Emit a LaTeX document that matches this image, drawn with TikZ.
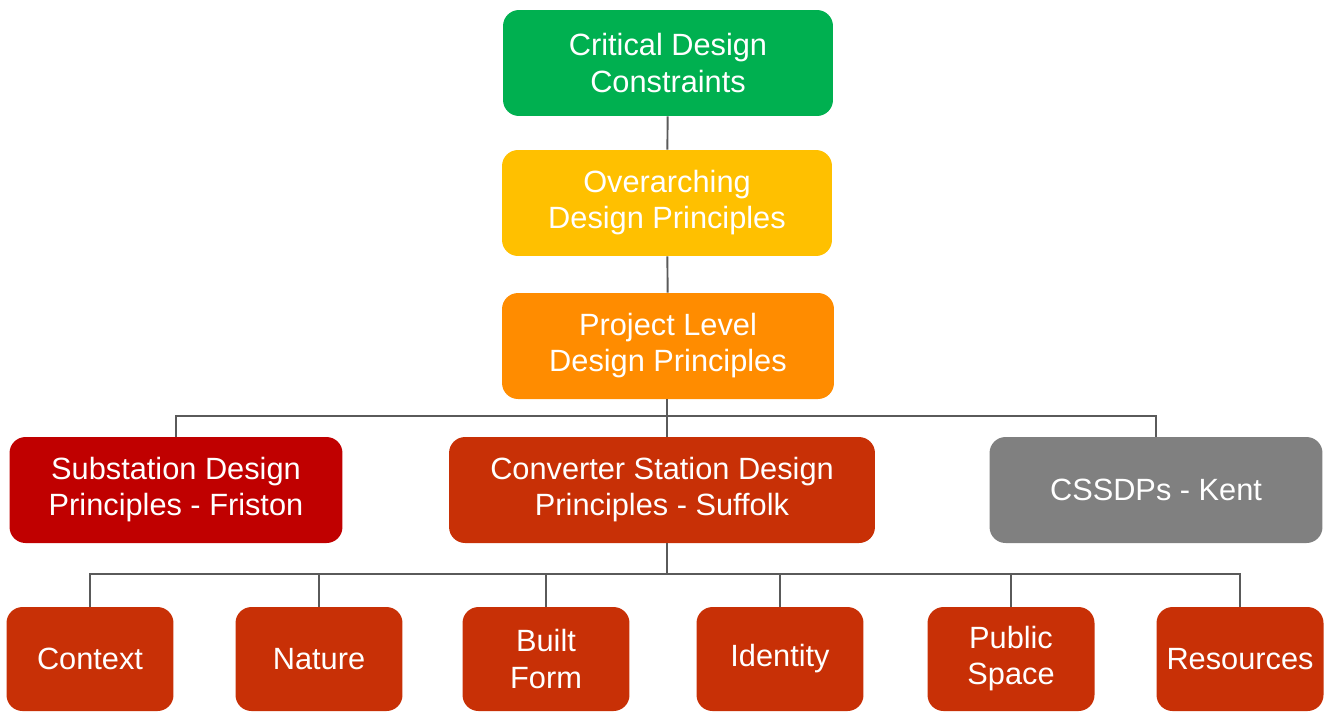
\documentclass[tikz,border=0pt]{standalone}
\usepackage{fontspec}
\setmainfont{Liberation Sans}
\usetikzlibrary{positioning}
\definecolor{critgreen}{RGB}{0,176,80}
\definecolor{overyellow}{RGB}{255,192,0}
\definecolor{projorange}{RGB}{255,140,0}
\definecolor{substred}{RGB}{192,0,0}
\definecolor{convred}{RGB}{200,48,6}
\definecolor{kentgrey}{RGB}{128,128,128}
\definecolor{linkgrey}{RGB}{90,90,90}
\tikzset{box/.style={rounded corners=0.32cm, text=white, align=center, inner sep=0pt, font=\fontsize{17.5}{20.5}\selectfont},
  topbox/.style={box, minimum width=6.6cm, minimum height=2.12cm},
  midbox/.style={box, minimum width=6.66cm, minimum height=2.12cm},
  leafbox/.style={box, fill=convred, minimum width=3.34cm, minimum height=2.08cm},
  link/.style={draw=linkgrey, line width=1.1pt}}

\begin{document}
\begin{tikzpicture}[x=0.02cm, y=-0.02cm]
\useasboundingbox (0,0) rectangle (1327,711);
\node[topbox, fill=critgreen] (crit) at (668,63) {Critical Design\\Constraints};
\node[topbox, fill=overyellow] (over) at (667,203) {Overarching\\Design Principles};
\node[topbox, fill=projorange, minimum width=6.64cm] (proj) at (668,346) {Project Level\\Design Principles};
\node[midbox, fill=substred] (subst) at (176,490) {Substation Design\\Principles - Friston};
\node[midbox, fill=convred, minimum width=8.52cm] (conv) at (662,490) {Converter Station Design\\Principles - Suffolk};
\node[midbox, fill=kentgrey] (kent) at (1156,490) {CSSDPs - Kent};
\node[leafbox] (ctx) at (90,659) {Context}; \node[leafbox] (nat) at (319,659) {Nature};
\node[leafbox] (built) at (546,659) {Built\\Form}; \node[leafbox] (ident) at (780,659) {Identity};
\node[leafbox] (pub) at (1011,659) {Public\\Space}; \node[leafbox] (res) at (1240,659) {Resources};
\coordinate (busa) at (667,416); \coordinate (busb) at (667,574);
\draw[link] (crit) -- (over); \draw[link] (over) -- (proj);
\draw[link] (proj.south -| busa) -- (busa |- conv.north);
\draw[link] (subst.north) |- (busa) -| (kent.north);
\draw[link] (busb |- conv.south) -- (busb);
\draw[link] (ctx.north) |- (busb) -| (res.north);
\foreach \leaf in {nat,built,ident,pub} {\draw[link] (\leaf.north) -- (\leaf.north |- busb);}
\end{tikzpicture}
\end{document}
